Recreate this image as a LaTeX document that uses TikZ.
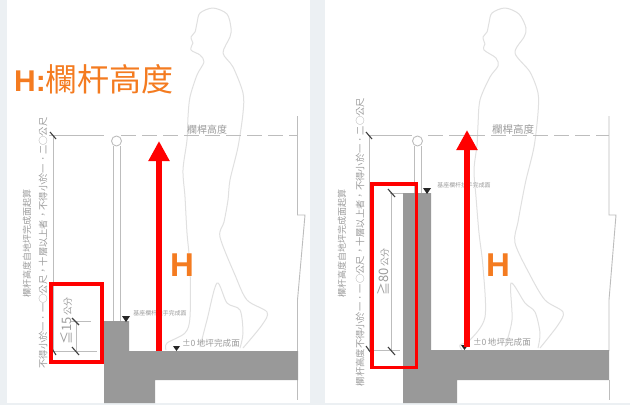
\documentclass[tikz,border=0pt]{standalone}
\usepackage{fontspec}
\setmainfont{Liberation Sans}
\newfontfamily\cjk{Noto Sans CJK TC}
\usetikzlibrary{arrows.meta}
\definecolor{pagebg}{HTML}{ECF0F3}
\definecolor{titleorange}{HTML}{F47B20}
\definecolor{drawgrey}{HTML}{BDBDBD}
\definecolor{textgrey}{HTML}{9C9C9C}
\definecolor{figgrey}{HTML}{E0E0E0}
\definecolor{slabgrey}{HTML}{999999}
\tikzset{
  cadline/.style={draw=drawgrey,line width=0.9pt},
  dashline/.style={draw=drawgrey,line width=0.9pt,dash pattern=on 15pt off 6pt},
  figline/.style={draw=figgrey,line width=1pt,line join=round},
  slab/.style={fill=slabgrey,draw=none},
  redbox/.style={draw=red,line width=3.2pt},
  redarrow/.style={draw=red,line width=6pt,-{Triangle[length=20pt,width=20pt]}},
  tick/.style={draw=black!75,line width=1.1pt},
  vtext/.style={rotate=90,inner sep=0pt,text=textgrey,font=\cjk\fontsize{9.3}{10}\selectfont},
  dimtext/.style={rotate=90,inner sep=0pt,text=textgrey,font=\cjk\fontsize{13}{14}\selectfont},
  htext/.style={inner sep=0pt,text=textgrey,font=\cjk\fontsize{8.6}{10}\selectfont},
  smalltext/.style={inner sep=0pt,text=textgrey,font=\cjk\fontsize{5.9}{6}\selectfont},
  bigH/.style={inner sep=0pt,text=titleorange,font=\bfseries\fontsize{33}{33}\selectfont},
  levelmark/.style={fill=black!85,draw=none}
}
\begin{document}
\begin{tikzpicture}[x=1pt,y=-1pt]
\useasboundingbox (0,0) rectangle (630,405);
\fill[pagebg] (0,0) rectangle (630,405);
\fill[white] (7,0) rectangle (310,403);
\fill[white] (325,0) rectangle (630,403);

% LEFT PANEL
\draw[figline] plot[smooth] coordinates {(193,43)(191,50)(200,55)(204,62)(197,75)(190,97)(188,117)(187,140)(183,170)(185,197)(187,233)(190,267)(190,317)(185,333)(167,343)(166,350)};
\draw[figline] plot[smooth] coordinates {(193,43)(191,37)(195,32)(197,23)(200,13)(213,8)(227,14)(231,28)(230,37)(223,53)(233,67)(243,93)(243,113)(238,147)(230,180)(228,200)(224,222)(220,237)(235,275)(247,300)(267,312)(262,325)(243,348)};
\draw[figline] plot[smooth] coordinates {(200,347)(207,320)(217,283)(227,303)(240,310)(243,333)(240,348)};
\draw[cadline] (297.5,116)--(297.5,215)--(305,215)--(297.5,300)--(297.5,351);
\draw[cadline] (297.5,380)--(297.5,400);
\draw[cadline] (49,135)--(104,135);
\draw[dashline] (121,135)--(297,135);
\draw[cadline] (53,135)--(53,352);
\draw[cadline] (113.5,146)--(113.5,321);
\draw[cadline] (120,146)--(120,321);
\node[draw=drawgrey,line width=0.9pt,fill=white,circle,minimum size=10pt,inner sep=0pt] (railL) at (116.5,141) {};
\draw[cadline] (52,351)--(97,351);
\draw[cadline] (71,321.5)--(91,321.5);
\draw[cadline] (76,321.5)--(76,351);
\draw[slab] (104,321)--(129,321)--(129,351)--(298,351)--(298,380)--(155,380)--(155,403)--(104,403)--cycle;
\draw[tick] (50,132)--(56,139);
\draw[tick] (51,347)--(56,355);
\draw[tick] (72,318)--(79,325);
\draw[tick] (72,347)--(79,355);
\fill[levelmark] (122,316)--(130,316)--(126,322)--cycle;
\fill[levelmark] (173,346)--(180,346)--(176.5,351)--cycle;
\node[vtext,font=\cjk\fontsize{9}{10}\selectfont] (l1) at (27,243) {欄杆高度自地坪完成面起算};
\node[vtext] (l2) at (43,243) {不得小於一．一○公尺，十層以上者，不得小於一．二○公尺};
\node[dimtext] (l3) at (66,321) {≦15\,{\fontsize{9}{9}\selectfont 公分}};
\node[htext,font=\cjk\fontsize{10}{11}\selectfont] (l4) at (207,130) {欄桿高度};
\node[smalltext] (l5) at (160,313) {基座欄杆扶手完成面};
\node[htext] (l6) at (211,343) {±0\,地坪完成面};
\draw[redarrow] (159,351)--(159,141);
\draw[redbox] (51,284) rectangle (102,362);
\node[bigH] (hL) at (182,265) {H};
\node[inner sep=0pt,anchor=west,text=titleorange] (title) at (14,79) {\bfseries\fontsize{30}{30}\selectfont H:\mdseries\cjk\fontsize{32}{32}\selectfont 欄杆高度};

% RIGHT PANEL
\draw[figline] plot[smooth] coordinates {(485,44)(484,50)(496,58)(498,66)(490,77)(480,100)(478,125)(477,145)(474,170)(476,197)(479,233)(483,267)(485,317)(470,340)(460,345)(462,350)};
\draw[figline] plot[smooth] coordinates {(485,44)(483,37)(487,32)(489,23)(492,13)(505,8)(519,14)(526,28)(524,37)(515,53)(530,72)(538,93)(538,113)(534,147)(526,180)(522,200)(518,222)(515,243)(530,275)(545,300)(563,312)(558,325)(540,348)};
\draw[figline] plot[smooth] coordinates {(505,347)(512,320)(511,283)(525,303)(535,312)(540,333)(538,348)};
\draw[cadline] (609,116)--(609,215)--(616,215)--(609,300)--(609,351);
\draw[cadline] (609,380)--(609,400);
\draw[cadline] (368,135)--(412,135);
\draw[dashline] (428,135)--(609,135);
\draw[cadline] (369,135)--(369,352);
\draw[cadline] (414,146)--(414,193);
\draw[cadline] (421,146)--(421,193);
\node[draw=drawgrey,line width=0.9pt,fill=white,circle,minimum size=10pt,inner sep=0pt] (railR) at (417.5,141) {};
\draw[cadline] (390,193.5)--(403,193.5);
\draw[cadline] (391,193.5)--(391,351);
\draw[cadline] (368,350)--(400,350);
\draw[slab] (403,193)--(431,193)--(431,350)--(609,350)--(609,380)--(457,380)--(457,403)--(403,403)--cycle;
\draw[tick] (366,132)--(372,139);
\draw[tick] (366,346)--(371,353);
\draw[tick] (388,347)--(395,355);
\draw[tick] (388,189)--(395,197);
\fill[levelmark] (423,188)--(431,188)--(427,194)--cycle;
\fill[levelmark] (461,345)--(468,345)--(464.5,350)--cycle;
\node[vtext,font=\cjk\fontsize{9}{10}\selectfont] (r1) at (342,243) {欄杆高度自地坪完成面起算};
\node[vtext] (r2) at (360,242) {欄杆高度不得小於一．一○公尺，十層以上者，不得小於一．二○公尺};
\node[dimtext] (r3) at (383,272) {≧80\,{\fontsize{9}{9}\selectfont 公分}};
\node[htext,font=\cjk\fontsize{10.5}{11}\selectfont] (r4) at (513,129) {欄桿高度};
\node[smalltext] (r5) at (464,185) {基座欄杆扶手完成面};
\node[htext] (r6) at (502,342) {±0\,地坪完成面};
\draw[redarrow] (467,347)--(467,130);
\draw[redbox] (372,184) rectangle (416.5,367.5);
\node[bigH] (hR) at (498,265) {H};
\end{tikzpicture}
\end{document}
